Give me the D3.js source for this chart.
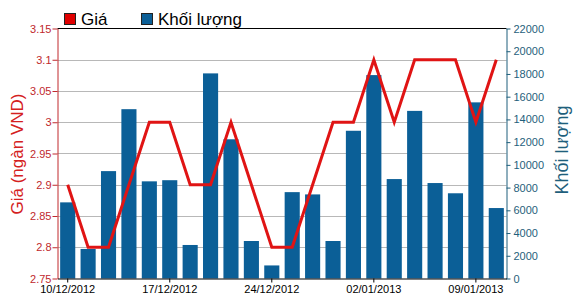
<!DOCTYPE html>
<html><head><meta charset="utf-8">
<script src="https://cdn.jsdelivr.net/npm/d3@7"></script>
<style>
body{margin:0;background:#fff;}
svg{display:block;font-family:"Liberation Sans",Arial,sans-serif;}
</style></head><body>
<svg id="c" width="578" height="307"></svg>
<script>
const dates = ["10/12/2012","11/12/2012","12/12/2012","13/12/2012","14/12/2012",
  "17/12/2012","18/12/2012","19/12/2012","20/12/2012","21/12/2012",
  "24/12/2012","25/12/2012","26/12/2012","27/12/2012","28/12/2012",
  "02/01/2013","03/01/2013","04/01/2013","07/01/2013","08/01/2013",
  "09/01/2013","10/01/2013"];
const price = [2.9,2.8,2.8,2.9,3.0,3.0,2.9,2.9,3.0,2.9,2.8,2.8,2.9,3.0,3.0,3.1,3.0,3.1,3.1,3.1,3.0,3.1];
const volume = [6700,2600,9450,14900,8550,8650,2950,18050,12250,3300,1150,7600,7400,3300,13000,17900,8750,14750,8400,7500,15500,6200];
const priceTicks = [2.75,2.8,2.85,2.9,2.95,3,3.05,3.1,3.15];
const volumeTicks = [0,2000,4000,6000,8000,10000,12000,14000,16000,18000,20000,22000];
const xTickLabels = ["10/12/2012","17/12/2012","24/12/2012","02/01/2013","09/01/2013"];

const L=57.5, R=506.5, T=28.5, B=278.5;
const svg=d3.select("#c");
const x=d3.scaleBand().domain(dates).range([L,R]).paddingInner(0.26).paddingOuter(0.13);
const yP=d3.scaleLinear().domain([2.75,3.15]).range([B,T]);
const yV=d3.scaleLinear().domain([0,22000]).range([B,T]);

// grid
svg.append("g").selectAll("line").data(priceTicks.slice(1,-1)).join("line")
  .attr("x1",L).attr("x2",R).attr("y1",d=>Math.round(yP(d))+0.5).attr("y2",d=>Math.round(yP(d))+0.5)
  .attr("stroke","#b8b8b8").attr("stroke-width",1);

// bars
svg.append("g").selectAll("rect").data(volume).join("rect")
  .attr("x",(d,i)=>x(dates[i])).attr("width",x.bandwidth())
  .attr("y",d=>yV(d)).attr("height",d=>B-yV(d)).attr("fill","#0b5f97");

// line
svg.append("path").datum(price)
  .attr("d",d3.line().x((d,i)=>x(dates[i])+x.bandwidth()/2).y(d=>yP(d)))
  .attr("fill","none").attr("stroke","#e01414").attr("stroke-width",3).attr("stroke-linejoin","miter");

// top border
svg.append("line").attr("x1",L).attr("x2",R).attr("y1",T).attr("y2",T).attr("stroke","#000");

// left axis
const gl=svg.append("g").attr("transform",`translate(${L},0)`)
  .call(d3.axisLeft(yP).tickValues(priceTicks).tickFormat(d3.format("")).tickSize(5).tickSizeOuter(0));
gl.select(".domain").attr("stroke","#c0282d");
gl.selectAll(".tick line").attr("stroke","#c0282d");
gl.selectAll(".tick text").attr("fill","#c0282d").attr("font-size",11).attr("font-family","Liberation Sans, Arial").attr("x",-6);

// right axis
const gr=svg.append("g").attr("transform",`translate(${R},0)`)
  .call(d3.axisRight(yV).tickValues(volumeTicks).tickFormat(d3.format("d")).tickSize(4).tickSizeOuter(0));
gr.select(".domain").attr("stroke","#1f5f7c");
gr.selectAll(".tick line").attr("stroke","#1f5f7c");
gr.selectAll(".tick text").attr("fill","#1f5f7c").attr("font-size",11).attr("font-family","Liberation Sans, Arial").attr("x",7);

// bottom axis
const gb=svg.append("g").attr("transform",`translate(0,${B})`)
  .call(d3.axisBottom(x).tickValues(xTickLabels).tickSize(4).tickSizeOuter(0));
gb.select(".domain").attr("stroke","#000");
gb.selectAll(".tick line").attr("stroke","#000");
gb.selectAll(".tick text").attr("fill","#000").attr("font-size",11).attr("font-family","Liberation Sans, Arial").attr("y",6.5);

// axis titles
svg.append("text").attr("transform","translate(23,154) rotate(-90)").attr("text-anchor","middle")
  .attr("fill","#d42020").attr("font-size",17).text("Giá (ngàn VND)");
svg.append("text").attr("transform","translate(568,150) rotate(-90)").attr("text-anchor","middle")
  .attr("fill","#1f5f7c").attr("font-size",18).text("Khối lượng");

// legend
const leg=[{t:"Giá",c:"#e00000",x:64},{t:"Khối lượng",c:"#0b5f97",x:141}];
const lg=svg.append("g").selectAll("g").data(leg).join("g");
lg.append("rect").attr("x",d=>d.x+0.5).attr("y",13.5).attr("width",11).attr("height",11)
  .attr("fill",d=>d.c).attr("stroke","#222").attr("stroke-width",1);
lg.append("text").attr("x",d=>d.x+17).attr("y",25).attr("font-size",17).attr("fill","#000").text(d=>d.t);
</script></body></html>
